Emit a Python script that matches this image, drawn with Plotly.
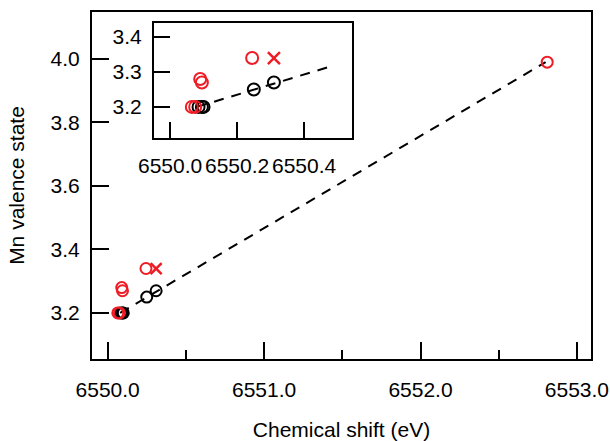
import plotly.graph_objects as go

# ---- data ----
red_circle_x = [6550.065, 6550.075, 6550.09, 6550.095, 6550.245, 6552.81]
red_circle_y = [3.20, 3.20, 3.28, 3.27, 3.34, 3.99]
red_cross_x = [6550.31]
red_cross_y = [3.34]
black_circle_x = [6550.085, 6550.095, 6550.10, 6550.25, 6550.31]
black_circle_y = [3.20, 3.20, 3.20, 3.25, 3.27]
fit_x = [6550.08, 6552.80]
fit_y = [3.20, 3.99]
inset_fit_x = [6550.08, 6550.48]
inset_fit_y = [3.20, 3.316]

main_xticks = [6550.0, 6551.0, 6552.0, 6553.0]
main_xtick_text = ["6550.0", "6551.0", "6552.0", "6553.0"]
main_yticks = [3.2, 3.4, 3.6, 3.8, 4.0]
main_ytick_text = ["3.2", "3.4", "3.6", "3.8", "4.0"]
inset_xticks = [6550.0, 6550.2, 6550.4]
inset_xtick_text = ["6550.0", "6550.2", "6550.4"]
inset_yticks = [3.2, 3.3, 3.4]
inset_ytick_text = ["3.2", "3.3", "3.4"]

RED = "#ee1c25"
BLACK = "#000000"
FONT = "Liberation Sans, Arial, sans-serif"
FS = 21

fig = go.Figure()

def add_set(xa, ya, msize, fx, fy):
    fig.add_trace(go.Scatter(x=fx, y=fy, mode="lines", xaxis=xa, yaxis=ya,
                             line=dict(color=BLACK, width=2, dash="10px,8px"),
                             showlegend=False, hoverinfo="skip"))
    fig.add_trace(go.Scatter(x=black_circle_x, y=black_circle_y, mode="markers",
                             xaxis=xa, yaxis=ya, showlegend=False,
                             marker=dict(symbol="circle-open", size=msize, color=BLACK,
                                         line=dict(width=2, color=BLACK))))
    fig.add_trace(go.Scatter(x=red_circle_x, y=red_circle_y, mode="markers",
                             xaxis=xa, yaxis=ya, showlegend=False,
                             marker=dict(symbol="circle-open", size=msize, color=RED,
                                         line=dict(width=2, color=RED))))
    fig.add_trace(go.Scatter(x=red_cross_x, y=red_cross_y, mode="markers",
                             xaxis=xa, yaxis=ya, showlegend=False,
                             marker=dict(symbol="x-thin-open", size=msize, color=RED,
                                         line=dict(width=2.5, color=RED))))

add_set("x", "y", 11, fit_x, fit_y)
add_set("x2", "y2", 12, inset_fit_x, inset_fit_y)

axis_common = dict(showgrid=False, zeroline=False, showline=True, linecolor=BLACK,
                   linewidth=2, mirror=True, ticks="inside", tickcolor=BLACK,
                   tickwidth=2, tickangle=0, automargin=False,
                   tickfont=dict(family=FONT, size=FS, color=BLACK))

fig.update_layout(
    width=610, height=441,
    margin=dict(l=92, r=19, t=12, b=82),
    paper_bgcolor="white", plot_bgcolor="white",
    font=dict(family=FONT, size=FS, color=BLACK),
    xaxis=dict(**axis_common, range=[6549.90, 6553.09], tickvals=main_xticks,
               ticktext=main_xtick_text, ticklen=17, ticklabelstandoff=11,
               minor=dict(tickvals=[6550.5, 6551.5, 6552.5], ticks="inside",
                          ticklen=9, tickwidth=2, tickcolor=BLACK),
               title=dict(text="Chemical shift (eV)", standoff=26,
                          font=dict(family=FONT, size=FS, color=BLACK))),
    yaxis=dict(**axis_common, range=[3.055, 4.148], tickvals=main_yticks,
               ticktext=main_ytick_text, ticklen=17, ticklabelstandoff=6,
               title=dict(text="Mn valence state", standoff=20,
                          font=dict(family=FONT, size=FS, color=BLACK))),
    xaxis2=dict(**axis_common, domain=[0.1242, 0.521], anchor="y2",
                range=[6549.952, 6550.543], tickvals=inset_xticks,
                ticktext=inset_xtick_text, ticklen=16, ticklabelstandoff=8),
    yaxis2=dict(**axis_common, domain=[0.637, 0.968], anchor="x2",
                range=[3.111, 3.44], tickvals=inset_yticks,
                ticktext=inset_ytick_text, ticklen=16, ticklabelstandoff=6),
)

fig.write_html("out.html")
